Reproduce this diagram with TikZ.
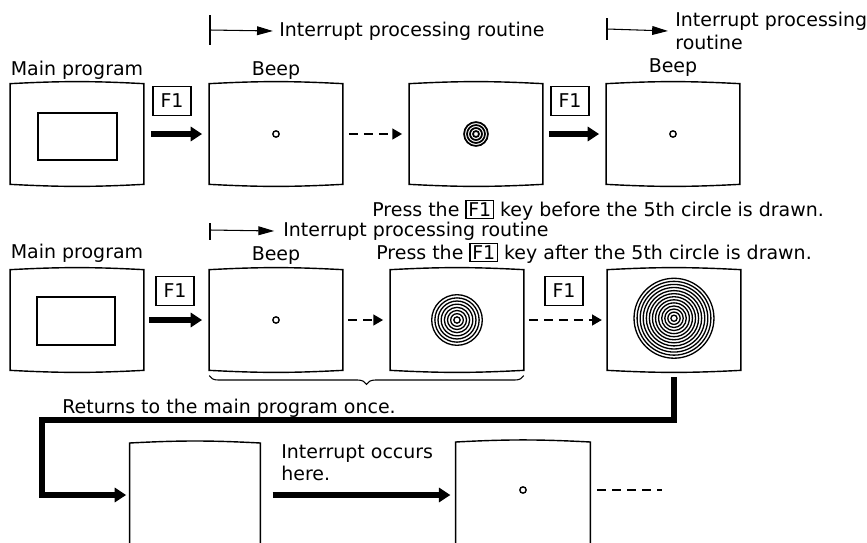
\documentclass[tikz,border=0pt]{standalone}
\usepackage{fontspec}
\setmainfont{DejaVu Sans}
\usetikzlibrary{arrows.meta,positioning,decorations.pathreplacing}

\newcommand{\fkey}[1]{{\setlength{\fboxsep}{1pt}\setlength{\fboxrule}{0.6pt}\fbox{#1}}}

\begin{document}
\begin{tikzpicture}[
    x=0.02cm, y=-0.02cm,
    line join=miter,
    every node/.style={font=\fontsize{10.8}{12.8}\selectfont, inner sep=0pt},
    screen/.style={minimum width=2.66cm, minimum height=2cm},
    keybox/.style={draw, line width=0.7pt, minimum width=0.76cm, minimum height=0.58cm},
    fat/.style={line width=3pt, -{Triangle[length=6.5pt,width=8pt]}},
    dasharrow/.style={line width=1.2pt, dash pattern=on 5pt off 3.5pt, -{Triangle[length=5.5pt,width=6pt]}},
    dashline/.style={line width=1.2pt, dash pattern=on 5pt off 3.5pt},
    span/.style={line width=0.6pt, -{Triangle[length=9pt,width=5pt]}},
    rings/.style={line width=0.75pt}
]

\useasboundingbox (0,0) rectangle (867,542);
\clip (0,0) rectangle (867,542);

% -----------------------------
% Row 1: F1 before the 5th circle
% -----------------------------
\node[screen] (main1) at (77,134) {};
\node[screen] (beep1) at (276,134) {};
\node[screen] (ring1) at (476,134) {};
\node[screen] (beep4) at (673,134) {};

\node[draw, line width=0.8pt, minimum width=1.58cm, minimum height=0.94cm]
  (win1) at (77.5,136.5) {};

\node[above=2pt of main1] (lblmain1) {Main program};
\node[above=2pt of beep1] (lblbeep1) {Beep};
\node[above=4pt of beep4] (lblbeep4) {Beep};

\node[keybox] (key1) at (172,101) {F1};
\node[keybox] (key2) at (570,101) {F1};

\draw[fat] ([xshift=4pt]main1.east) -- ([xshift=-4pt]beep1.west);
\draw[dasharrow] ([xshift=3.5pt]beep1.east) -- ([xshift=-4pt]ring1.west);
\draw[fat] ([xshift=3.5pt]ring1.east) -- ([xshift=-4pt]beep4.west);

\draw[line width=0.8pt] (beep1) circle[radius=1.8pt];
\draw[line width=0.8pt] (beep4) circle[radius=1.8pt];
\foreach \r in {1,...,4}
  \draw[line width=1pt] (ring1) circle[radius=\r*1.7pt];

% interrupt marks
\coordinate (tick1a) at (210,15);
\coordinate (tick1b) at (210,45);
\coordinate (from1) at (210,30);
\draw[line width=0.6pt] (tick1a) -- (tick1b);
\node[anchor=west] (ipr1) at (279,31) {Interrupt processing routine};
\draw[span] (from1) -- ([xshift=-3.5pt]ipr1.west);

\coordinate (tick2a) at (607,18);
\coordinate (tick2b) at (607,40);
\coordinate (from2) at (607,29);
\draw[line width=0.6pt] (tick2a) -- (tick2b);
\node[anchor=west, align=left] (ipr2) at (675,31) {Interrupt processing\\routine};
\draw[span] (from2) -- ([xshift=-4pt]ipr2.west);

% -----------------------------
% Row 2: F1 after the 5th circle
% -----------------------------
\node[screen] (main2) at (77,320) {};
\node[screen] (beep2) at (276,320) {};
\node[screen] (ringA) at (457,320) {};
\node[screen] (ringB) at (674,320) {};

\node[draw, line width=0.8pt, minimum width=1.56cm, minimum height=0.96cm]
  (win2) at (76,321) {};

\node[above=4pt of main2] (lblmain2) {Main program};
\node[above=3pt of beep2] (lblbeep2) {Beep};

\node[keybox] (key3) at (175,291) {F1};
\node[keybox] (key4) at (564,291) {F1};

\draw[fat] ([xshift=3pt]main2.east) -- ([xshift=-4pt]beep2.west);
\draw[dasharrow] ([xshift=3pt]beep2.east) -- ([xshift=-4pt]ringA.west);
\draw[dasharrow] ([xshift=3pt]ringA.east) -- ([xshift=-3pt]ringB.west);

\draw[line width=0.8pt] (beep2) circle[radius=1.8pt];
\foreach \r in {1,...,8}
  \draw[rings] (ringA) circle[radius=\r*1.8pt];
\foreach \r in {1,...,13}
  \draw[rings] ([yshift=1pt]ringB.center) circle[radius=\r*1.75pt];

\coordinate (tick3a) at (210,223);
\coordinate (tick3b) at (210,240);
\coordinate (from3) at (210,230);
\draw[line width=0.6pt] (tick3a) -- (tick3b);
\node[anchor=west] (ipr3) at (283,231) {Interrupt processing routine};
\draw[span] (from3) -- ([xshift=-5pt]ipr3.west);

\node[anchor=west] (before) at (372,210)
  {Press the \fkey{F1} key before the 5th circle is drawn.};
\node[anchor=west] (after) at (376,253)
  {Press the \fkey{F1} key after the 5th circle is drawn.};

\draw[decorate, decoration={brace, mirror, amplitude=5pt}, line width=0.6pt]
  ([yshift=-3pt]beep2.south west) -- ([yshift=-3pt]ringA.south east);

\node[anchor=west] (back) at (62,408) {Returns to the main program once.};

% -----------------------------
% Row 3: back in the main program
% -----------------------------
\node[screen, minimum width=2.6cm, minimum height=2.4cm, anchor=north] (blank) at (195,443) {};
\node[screen, minimum width=2.68cm, minimum height=2.4cm, anchor=north] (last) at (523,442) {};

\coordinate (turn) at (42,420);
\coordinate (row3) at (0,495);
\coordinate (tail) at (662,490);

\draw[fat] ([yshift=-4pt]ringB.south) |- (turn) |- ([xshift=-2pt]blank.west |- row3);
\draw[fat] ([xshift=7pt]blank.east |- row3) -- ([xshift=-3pt]last.west |- row3);
\draw[dashline] ([xshift=4pt]last.east |- tail) -- (tail);
\draw[line width=0.8pt] (last.center |- tail) circle[radius=1.8pt];

\node[anchor=north west, align=left] (occurs) at (281,444) {Interrupt occurs\\here.};

% screen outlines
\foreach \s in {main1,beep1,ring1,beep4,main2,beep2,ringA,ringB,blank,last}
  \draw[line width=0.8pt] (\s.north west) to[bend left=3] (\s.north east)
    -- (\s.south east) to[bend left=3] (\s.south west) -- cycle;

\end{tikzpicture}
\end{document}
